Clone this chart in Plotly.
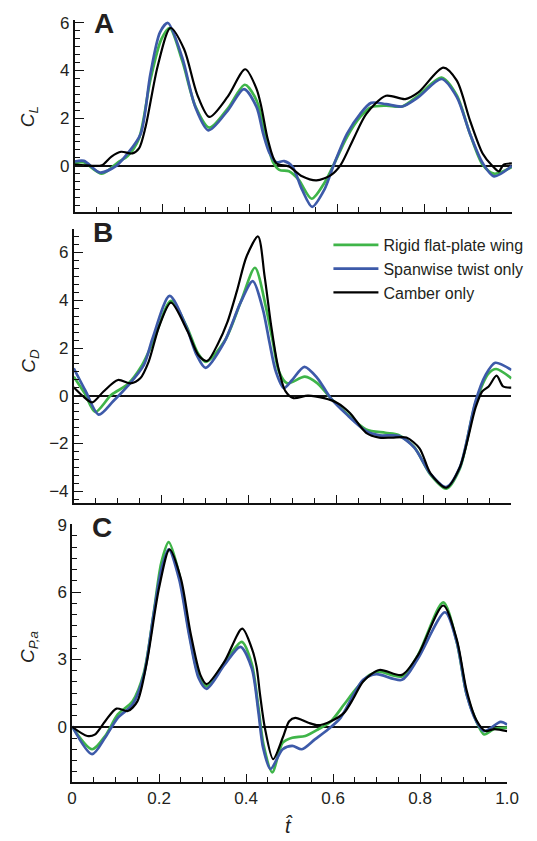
import plotly.graph_objects as go

W, H = 537, 841
GREEN = "#3fb549"
BLUE = "#3d5aa9"
BLACK = "#000000"
NAMES = ["Rigid flat-plate wing", "Spanwise twist only", "Camber only"]

# ---------- Panel A: C_L ----------
a_green_t = [0, 0.02, 0.062, 0.099, 0.121, 0.147, 0.173, 0.198, 0.217, 0.246, 0.276, 0.308, 0.35, 0.389,
             0.416, 0.439, 0.453, 0.468, 0.49, 0.512, 0.542, 0.571, 0.594, 0.623, 0.653, 0.678, 0.712,
             0.749, 0.786, 0.839, 0.874, 0.904, 0.933, 0.959, 1.0]
a_green_v = [0.1, 0.15, -0.33, 0.15, 0.41, 1.15, 3.6, 5.3, 5.78, 4.4, 2.5, 1.6, 2.4, 3.4,
             2.74, 1.08, 0.18, -0.17, -0.23, -0.58, -1.38, -0.72, 0.11, 1.22, 2.05, 2.46, 2.52,
             2.49, 2.95, 3.7, 2.95, 1.35, 0.05, -0.33, -0.05]
a_blue_t = [0, 0.021, 0.058, 0.095, 0.121, 0.151, 0.173, 0.195, 0.213, 0.246, 0.276, 0.306, 0.35, 0.387,
            0.416, 0.431, 0.446, 0.461, 0.479, 0.498, 0.52, 0.543, 0.571, 0.594, 0.623, 0.653, 0.678,
            0.712, 0.749, 0.786, 0.839, 0.874, 0.904, 0.933, 0.959, 1.0]
a_blue_v = [0.18, 0.21, -0.28, 0.0, 0.52, 1.35, 3.84, 5.6, 5.99, 4.53, 2.46, 1.49, 2.32, 3.22,
            2.46, 1.35, 0.52, 0.15, 0.2, -0.03, -1.0, -1.72, -1.0, 0.11, 1.35, 2.18, 2.64,
            2.59, 2.49, 2.88, 3.64, 2.88, 1.35, 0.12, -0.44, 0.0]
a_black_t = [0, 0.04, 0.062, 0.084, 0.106, 0.132, 0.147, 0.162, 0.19, 0.219, 0.25, 0.28, 0.308, 0.35,
             0.39, 0.416, 0.427, 0.442, 0.461, 0.49, 0.52, 0.553, 0.586, 0.608, 0.638, 0.667, 0.712,
             0.756, 0.786, 0.843, 0.874, 0.904, 0.933, 0.955, 0.97, 0.981, 1.0]
a_black_v = [0.05, 0.0, 0.02, 0.39, 0.59, 0.52, 0.73, 1.63, 4.2, 5.78, 4.9, 3.0, 2.05, 2.9,
             4.05, 3.22, 2.46, 1.08, 0.11, -0.03, -0.44, -0.61, -0.39, 0.03, 1.15, 2.18, 2.94,
             2.8, 3.08, 4.12, 3.57, 1.91, 0.52, 0.0, -0.23, 0.05, 0.1]

# ---------- Panel B: C_D ----------
b_green_t = [0, 0.025, 0.049, 0.086, 0.123, 0.156, 0.18, 0.222, 0.258, 0.283, 0.302, 0.345, 0.383,
             0.414, 0.44, 0.455, 0.469, 0.488, 0.528, 0.557, 0.587, 0.624, 0.668, 0.712, 0.742,
             0.778, 0.815, 0.851, 0.882, 0.918, 0.948, 0.965, 1.0]
b_green_v = [0.8, 0.1, -0.68, 0.04, 0.48, 1.28, 2.2, 3.97, 2.9, 1.8, 1.42, 2.3, 4.0,
             5.36, 3.63, 2.25, 1.0, 0.52, 0.8, 0.52, -0.1, -0.75, -1.41, -1.55, -1.64,
             -2.15, -3.3, -3.89, -3.05, -0.3, 0.94, 1.12, 0.73]
b_blue_t = [0, 0.027, 0.057, 0.09, 0.123, 0.16, 0.18, 0.219, 0.256, 0.281, 0.301, 0.344, 0.381,
            0.409, 0.432, 0.447, 0.462, 0.48, 0.499, 0.527, 0.557, 0.587, 0.624, 0.668, 0.698,
            0.742, 0.778, 0.815, 0.851, 0.882, 0.918, 0.941, 0.963, 1.0]
b_blue_v = [1.15, 0.2, -0.79, -0.23, 0.4, 1.28, 2.4, 4.18, 2.94, 1.7, 1.17, 2.25, 3.9,
            4.8, 3.63, 2.25, 1.0, 0.32, 0.66, 1.21, 0.73, -0.1, -0.79, -1.48, -1.66,
            -1.68, -2.17, -3.27, -3.82, -3.0, -0.23, 0.87, 1.38, 1.08]
b_black_t = [0, 0.02, 0.042, 0.068, 0.101, 0.13, 0.152, 0.171, 0.195, 0.222, 0.26, 0.285, 0.305,
             0.33, 0.351, 0.373, 0.395, 0.421, 0.436, 0.451, 0.466, 0.484, 0.502, 0.535, 0.572,
             0.602, 0.631, 0.668, 0.698, 0.727, 0.76, 0.79, 0.815, 0.851, 0.882, 0.918, 0.933,
             0.948, 0.966, 0.981, 1.0]
b_black_v = [0.36, 0.0, -0.28, 0.18, 0.66, 0.52, 0.73, 1.42, 2.9, 3.9, 2.7, 1.7, 1.46,
             2.2, 3.08, 4.4, 5.84, 6.67, 5.01, 2.94, 1.28, 0.18, -0.1, 0.01, -0.1,
             -0.3, -0.72, -1.55, -1.75, -1.75, -1.75, -2.2, -3.25, -3.85, -3.0, -0.5, 0.18,
             0.39, 0.84, 0.39, 0.34]

# ---------- Panel C: C_P,a ----------
c_green_t = [0, 0.046, 0.076, 0.105, 0.139, 0.165, 0.187, 0.205, 0.222, 0.246, 0.269, 0.291, 0.309,
             0.35, 0.39, 0.413, 0.428, 0.44, 0.46, 0.484, 0.506, 0.536, 0.565, 0.595, 0.625, 0.654,
             0.684, 0.706, 0.758, 0.795, 0.853, 0.884, 0.907, 0.929, 0.947, 0.97, 1.0]
c_green_v = [0.0, -1.0, -0.41, 0.55, 1.14, 2.4, 5.0, 7.3, 8.22, 6.8, 4.2, 2.25, 1.8,
             2.85, 3.78, 2.8, 0.9, -0.8, -2.03, -0.71, -0.49, -0.41, -0.12, 0.25, 0.99, 1.72,
             2.31, 2.45, 2.24, 3.19, 5.54, 3.78, 1.43, 0.25, -0.34, -0.1, -0.04]
c_blue_t = [0, 0.046, 0.076, 0.105, 0.139, 0.165, 0.187, 0.205, 0.222, 0.246, 0.269, 0.291, 0.309,
            0.35, 0.387, 0.413, 0.428, 0.439, 0.456, 0.484, 0.506, 0.528, 0.558, 0.588, 0.617,
            0.647, 0.669, 0.699, 0.758, 0.795, 0.857, 0.884, 0.907, 0.929, 0.947, 0.985, 1.0]
c_blue_v = [0.03, -1.22, -0.48, 0.4, 0.99, 2.31, 4.96, 7.0, 7.9, 6.57, 4.08, 2.16, 1.69,
            2.75, 3.56, 2.6, 0.69, -0.93, -1.88, -1.0, -0.85, -1.0, -0.56, -0.12, 0.4,
            1.43, 2.09, 2.34, 2.09, 3.04, 5.1, 3.78, 1.43, 0.25, -0.19, 0.22, 0.1]
c_black_t = [0, 0.035, 0.052, 0.076, 0.102, 0.128, 0.15, 0.172, 0.2, 0.224, 0.25, 0.272, 0.295,
             0.309, 0.35, 0.391, 0.413, 0.424, 0.432, 0.443, 0.462, 0.484, 0.499, 0.513, 0.543,
             0.565, 0.595, 0.625, 0.647, 0.669, 0.706, 0.758, 0.795, 0.853, 0.884, 0.907, 0.929,
             0.95, 0.97, 1.0]
c_black_v = [0.0, -0.41, -0.35, 0.25, 0.81, 0.7, 1.13, 2.9, 6.2, 7.9, 6.6, 4.2, 2.3,
             1.9, 2.9, 4.37, 3.49, 2.68, 1.43, -0.04, -1.44, -0.49, 0.25, 0.4, 0.18,
             0.07, 0.25, 0.62, 1.28, 2.02, 2.53, 2.31, 3.19, 5.4, 3.9, 1.6, 0.3,
             -0.19, -0.1, -0.19]

x_tickvals = [0, 0.2, 0.4, 0.6, 0.8, 1.0]
x_ticktext = ["0", "0.2", "0.4", "0.6", "0.8", "1.0"]
a_yticks = [0, 2, 4, 6]
b_yticks = [-4, -2, 0, 2, 4, 6]
c_yticks = [0, 3, 6, 9]

FONT = "Liberation Sans, Arial, Helvetica, sans-serif"
TICKCOL = "#231f20"
AXCOL = "#111111"


def minor_positions(lo, hi, step, major):
    out = []
    k = int(round(lo / step)) - 1
    while k * step <= hi + 1e-9:
        v = k * step
        if lo - 1e-9 <= v <= hi + 1e-9 and all(abs(v - m) > 1e-6 for m in major):
            out.append(round(v, 6))
        k += 1
    return out


panels = [
    dict(series=[(a_green_t, a_green_v), (a_blue_t, a_blue_v), (a_black_t, a_black_v)],
         xpx=(72, 523.5), ypx=(12, 205.7), yrange=[-1.925, 6.12], yticks=a_yticks, minor=1/3,
         label="A", ytitle="<i>C<sub>L</sub></i>", ytitle_y=110, showx=False, legend=False),
    dict(series=[(b_green_t, b_green_v), (b_blue_t, b_blue_v), (b_black_t, b_black_v)],
         xpx=(71, 523), ypx=(222.7, 500), yrange=[-4.5, 7.0], yticks=b_yticks, minor=1/3,
         label="B", ytitle="<i>C<sub>D</sub></i>", ytitle_y=356, showx=False, legend=True),
    dict(series=[(c_green_t, c_green_v), (c_blue_t, c_blue_v), (c_black_t, c_black_v)],
         xpx=(69.3, 518.6), ypx=(520.7, 781.7), yrange=[-2.47, 9.04], yticks=c_yticks, minor=0.5,
         label="C", ytitle="<i>C<sub>P,a</sub></i>", ytitle_y=645, showx=True, legend=False),
]

colors = [GREEN, BLUE, BLACK]
widths = [2.7, 2.7, 2.2]

fig = go.Figure()
annotations = []
x_minor = minor_positions(0, 1, 0.05, x_tickvals)
for i, p in enumerate(panels, start=1):
    xa = "x" if i == 1 else f"x{i}"
    ya = "y" if i == 1 else f"y{i}"
    for j, (tt, vv) in enumerate(p["series"]):
        fig.add_trace(go.Scatter(
            x=tt, y=vv, mode="lines", name=NAMES[j], xaxis=xa, yaxis=ya,
            line=dict(color=colors[j], width=widths[j], shape="spline", smoothing=0.8),
            showlegend=p["legend"], hoverinfo="skip"))
    xd = [p["xpx"][0] / W, p["xpx"][1] / W]
    yd = [1 - p["ypx"][1] / H, 1 - p["ypx"][0] / H]
    xkey = "xaxis" if i == 1 else f"xaxis{i}"
    ykey = "yaxis" if i == 1 else f"yaxis{i}"
    y_minor = minor_positions(p["yrange"][0], p["yrange"][1], p["minor"], p["yticks"])
    fig.update_layout(**{
        xkey: dict(domain=xd, anchor=ya, range=[0, 1], showgrid=False, zeroline=False,
                   showline=True, linecolor=AXCOL, linewidth=1.6,
                   ticks="inside", ticklen=8, tickwidth=1.3, tickcolor=AXCOL,
                   tickmode="array", tickvals=x_tickvals, ticktext=x_ticktext,
                   showticklabels=p["showx"],
                   tickfont=dict(family=FONT, size=17, color=TICKCOL),
                   minor=dict(tickmode="array", tickvals=x_minor, ticks="inside", ticklen=5,
                              tickwidth=1.1, tickcolor=AXCOL, showgrid=False)),
        ykey: dict(domain=yd, anchor=xa, range=p["yrange"], showgrid=False,
                   zeroline=True, zerolinecolor=AXCOL, zerolinewidth=1.5,
                   showline=True, linecolor=AXCOL, linewidth=1.6,
                   ticks="inside", ticklen=9, tickwidth=1.3, tickcolor=AXCOL,
                   tickmode="array", tickvals=p["yticks"], ticksuffix="\u00a0",
                   tickfont=dict(family=FONT, size=17, color=TICKCOL),
                   minor=dict(tickmode="array", tickvals=y_minor, ticks="inside", ticklen=5,
                              tickwidth=1.1, tickcolor=AXCOL, showgrid=False)),
    })
    annotations.append(dict(text=f"<b>{p['label']}</b>", xref="paper", yref="paper",
                            x=(p["xpx"][0] + 18) / W, y=1 - (p["ypx"][0] + 4) / H,
                            xanchor="left", yanchor="middle", showarrow=False,
                            font=dict(family=FONT, size=28, color=TICKCOL)))
    annotations.append(dict(text=p["ytitle"], xref="paper", yref="paper",
                            x=25 / W, y=1 - p["ytitle_y"] / H, textangle=-90,
                            xanchor="center", yanchor="middle", showarrow=False,
                            font=dict(family=FONT, size=19, color=TICKCOL)))

annotations.append(dict(text="<i>t\u0302</i>", xref="paper", yref="paper",
                        x=293 / W, y=1 - 826 / H, xanchor="center", yanchor="middle",
                        showarrow=False, font=dict(family=FONT, size=20, color=TICKCOL)))

fig.update_layout(
    width=W, height=H, margin=dict(l=0, r=0, t=0, b=0),
    paper_bgcolor="white", plot_bgcolor="white",
    annotations=annotations,
    legend=dict(x=334 / W, y=1 - 222 / H, xanchor="left", yanchor="top",
                bgcolor="rgba(0,0,0,0)", font=dict(family=FONT, size=16, color=TICKCOL),
                tracegroupgap=0, itemwidth=45),
)

fig.write_html("out.html")
